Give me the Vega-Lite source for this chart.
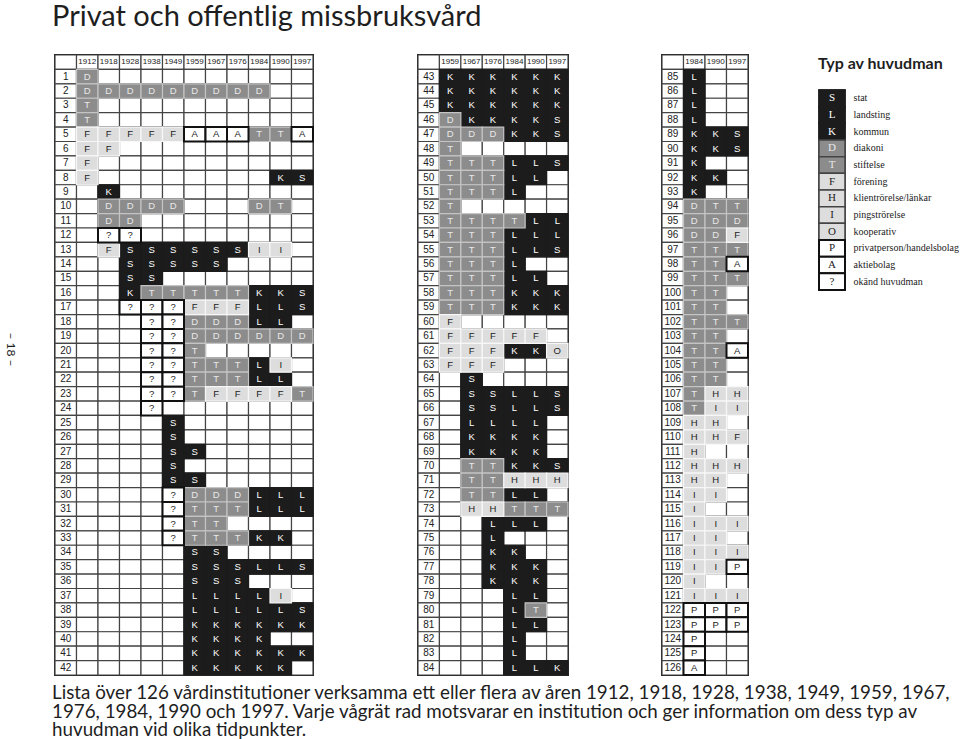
{
  "$schema": "https://vega.github.io/schema/vega-lite/v6.json",
  "background": "white",
  "padding": {"left": 3, "top": 3, "right": 0, "bottom": 0},
  "title": {"text": "Privat och offentlig missbruksvård", "anchor": "start", "font": "Lato", "fontSize": 29, "fontWeight": "normal", "color": "#1e1e1e", "dx": 49, "offset": 21},
  "vconcat": [
    {
      "title": {"text": ["Lista över 126 vårdinstitutioner verksamma ett eller flera av åren 1912, 1918, 1928, 1938, 1949, 1959, 1967,", "1976, 1984, 1990 och 1997. Varje vågrät rad motsvarar en institution och ger information om dess typ av", "huvudman vid olika tidpunkter."], "orient": "bottom", "anchor": "start", "font": "Lato", "fontSize": 18.8, "fontWeight": "normal", "color": "#1e1e1e", "lineHeight": 18.5, "dx": 49, "offset": 7},
      "spacing": 101,
      "hconcat": [
        {
          "width": 258, "height": 620,
          "data": {"values": [
            {"r": "", "1912": "1912", "1918": "1918", "1928": "1928", "1938": "1938", "1949": "1949", "1959": "1959", "1967": "1967", "1976": "1976", "1984": "1984", "1990": "1990", "1997": "1997"},
            {"r": "1", "1912": "D"},
            {"r": "2", "1912": "D", "1918": "D", "1928": "D", "1938": "D", "1949": "D", "1959": "D", "1967": "D", "1976": "D", "1984": "D"},
            {"r": "3", "1912": "T"},
            {"r": "4", "1912": "T"},
            {"r": "5", "1912": "F", "1918": "F", "1928": "F", "1938": "F", "1949": "F", "1959": "A", "1967": "A", "1976": "A", "1984": "T", "1990": "T", "1997": "A"},
            {"r": "6", "1912": "F", "1918": "F"},
            {"r": "7", "1912": "F"},
            {"r": "8", "1912": "F", "1990": "K", "1997": "S"},
            {"r": "9", "1918": "K"},
            {"r": "10", "1918": "D", "1928": "D", "1938": "D", "1949": "D", "1984": "D", "1990": "T"},
            {"r": "11", "1918": "D", "1928": "D"},
            {"r": "12", "1918": "?", "1928": "?"},
            {"r": "13", "1918": "F", "1928": "S", "1938": "S", "1949": "S", "1959": "S", "1967": "S", "1976": "S", "1984": "I", "1990": "I"},
            {"r": "14", "1928": "S", "1938": "S", "1949": "S", "1959": "S", "1967": "S"},
            {"r": "15", "1928": "S", "1938": "S"},
            {"r": "16", "1928": "K", "1938": "T", "1949": "T", "1959": "T", "1967": "T", "1976": "T", "1984": "K", "1990": "K", "1997": "S"},
            {"r": "17", "1928": "?", "1938": "?", "1949": "?", "1959": "F", "1967": "F", "1976": "F", "1984": "L", "1990": "L", "1997": "S"},
            {"r": "18", "1938": "?", "1949": "?", "1959": "D", "1967": "D", "1976": "D", "1984": "L", "1990": "L"},
            {"r": "19", "1938": "?", "1949": "?", "1959": "D", "1967": "D", "1976": "D", "1984": "D", "1990": "D", "1997": "D"},
            {"r": "20", "1938": "?", "1949": "?", "1959": "T"},
            {"r": "21", "1938": "?", "1949": "?", "1959": "T", "1967": "T", "1976": "T", "1984": "L", "1990": "I"},
            {"r": "22", "1938": "?", "1949": "?", "1959": "T", "1967": "T", "1976": "T", "1984": "L", "1990": "L"},
            {"r": "23", "1938": "?", "1949": "?", "1959": "T", "1967": "F", "1976": "F", "1984": "F", "1990": "F", "1997": "T"},
            {"r": "24", "1938": "?"},
            {"r": "25", "1949": "S"},
            {"r": "26", "1949": "S"},
            {"r": "27", "1949": "S", "1959": "S"},
            {"r": "28", "1949": "S"},
            {"r": "29", "1949": "S", "1959": "S"},
            {"r": "30", "1949": "?", "1959": "D", "1967": "D", "1976": "D", "1984": "L", "1990": "L", "1997": "L"},
            {"r": "31", "1949": "?", "1959": "T", "1967": "T", "1976": "T", "1984": "L", "1990": "L", "1997": "L"},
            {"r": "32", "1949": "?", "1959": "T", "1967": "T"},
            {"r": "33", "1949": "?", "1959": "T", "1967": "T", "1976": "T", "1984": "K", "1990": "K"},
            {"r": "34", "1959": "S", "1967": "S"},
            {"r": "35", "1959": "S", "1967": "S", "1976": "S", "1984": "L", "1990": "L", "1997": "S"},
            {"r": "36", "1959": "S", "1967": "S", "1976": "S"},
            {"r": "37", "1959": "L", "1967": "L", "1976": "L", "1984": "L", "1990": "I"},
            {"r": "38", "1959": "L", "1967": "L", "1976": "L", "1984": "L", "1990": "L", "1997": "S"},
            {"r": "39", "1959": "K", "1967": "K", "1976": "K", "1984": "K", "1990": "K", "1997": "K"},
            {"r": "40", "1959": "K", "1967": "K", "1976": "K", "1984": "K"},
            {"r": "41", "1959": "K", "1967": "K", "1976": "K", "1984": "K", "1990": "K", "1997": "K"},
            {"r": "42", "1959": "K", "1967": "K", "1976": "K", "1984": "K", "1990": "K"}
          ]},
          "transform": [{"fold": ["r", "1912", "1918", "1928", "1938", "1949", "1959", "1967", "1976", "1984", "1990", "1997"], "as": ["col", "val"]}],
          "encoding": {
            "x": {"field": "col", "type": "nominal", "axis": null, "scale": {"domain": ["r", "1912", "1918", "1928", "1938", "1949", "1959", "1967", "1976", "1984", "1990", "1997"], "paddingInner": 0, "paddingOuter": 0}},
            "y": {"field": "r", "type": "nominal", "scale": {"domain": ["", "1", "2", "3", "4", "5", "6", "7", "8", "9", "10", "11", "12", "13", "14", "15", "16", "17", "18", "19", "20", "21", "22", "23", "24", "25", "26", "27", "28", "29", "30", "31", "32", "33", "34", "35", "36", "37", "38", "39", "40", "41", "42"], "paddingInner": 0, "paddingOuter": 0},
              "axis": {"title": "– 18 –", "labels": false, "ticks": false, "domain": false, "grid": false, "titleAngle": 90, "titlePadding": 52, "titleFont": "Lato", "titleFontSize": 12, "titleFontWeight": "normal", "titleColor": "#1e1e1e", "titleY": 294}}
          },
          "layer": [
            {"mark": {"type": "rect", "fill": "#ffffff", "stroke": "#444444", "strokeWidth": 1.2}},
            {"transform": [{"filter": {"field": "val", "oneOf": ["S", "L", "K"]}}], "mark": {"type": "rect", "fill": "#1c1c1c", "stroke": "#1c1c1c", "strokeWidth": 1.2}},
            {"transform": [{"filter": {"field": "val", "oneOf": ["D", "T"]}}], "mark": {"type": "rect", "fill": "#8c8c8c", "stroke": "#c4c4c4", "strokeWidth": 1.2}},
            {"transform": [{"filter": {"field": "val", "oneOf": ["F", "H", "I", "O"]}}], "mark": {"type": "rect", "fill": "#dddddd", "stroke": "#f7f7f7", "strokeWidth": 1.2}},
            {"transform": [{"filter": {"field": "val", "oneOf": ["P", "A", "?"]}}], "mark": {"type": "rect", "fill": "#ffffff", "stroke": "#111111", "strokeWidth": 2}},
            {"transform": [{"filter": {"field": "val", "oneOf": ["S", "L", "K"]}}], "mark": {"type": "text", "font": "Liberation Sans", "fontSize": 9.5, "color": "#ffffff"}, "encoding": {"text": {"field": "val"}}},
            {"transform": [{"filter": {"field": "val", "oneOf": ["D", "T"]}}], "mark": {"type": "text", "font": "Liberation Sans", "fontSize": 9.5, "color": "#e8e8e8"}, "encoding": {"text": {"field": "val"}}},
            {"transform": [{"filter": {"field": "val", "oneOf": ["F", "H", "I", "O", "P", "A", "?"]}}], "mark": {"type": "text", "font": "Liberation Sans", "fontSize": 9.5, "color": "#222222"}, "encoding": {"text": {"field": "val"}}},
            {"transform": [{"filter": "datum.col == 'r'"}], "mark": {"type": "text", "font": "Liberation Sans", "fontSize": 10, "color": "#222222"}, "encoding": {"text": {"field": "val"}}},
            {"transform": [{"filter": "datum.r == '' && datum.col != 'r'"}], "mark": {"type": "text", "font": "Liberation Sans", "fontSize": 8, "color": "#222222"}, "encoding": {"text": {"field": "val"}}}
          ]
        },
        {
          "spacing": 90,
          "hconcat": [
            {
              "width": 150, "height": 620,
              "data": {"values": [
                {"r": "", "1959": "1959", "1967": "1967", "1976": "1976", "1984": "1984", "1990": "1990", "1997": "1997"},
                {"r": "43", "1959": "K", "1967": "K", "1976": "K", "1984": "K", "1990": "K", "1997": "K"},
                {"r": "44", "1959": "K", "1967": "K", "1976": "K", "1984": "K", "1990": "K", "1997": "K"},
                {"r": "45", "1959": "K", "1967": "K", "1976": "K", "1984": "K", "1990": "K", "1997": "K"},
                {"r": "46", "1959": "D", "1967": "K", "1976": "K", "1984": "K", "1990": "K", "1997": "S"},
                {"r": "47", "1959": "D", "1967": "D", "1976": "D", "1984": "K", "1990": "K", "1997": "S"},
                {"r": "48", "1959": "T"},
                {"r": "49", "1959": "T", "1967": "T", "1976": "T", "1984": "L", "1990": "L", "1997": "S"},
                {"r": "50", "1959": "T", "1967": "T", "1976": "T", "1984": "L", "1990": "L"},
                {"r": "51", "1959": "T", "1967": "T", "1976": "T", "1984": "L"},
                {"r": "52", "1959": "T"},
                {"r": "53", "1959": "T", "1967": "T", "1976": "T", "1984": "T", "1990": "L", "1997": "L"},
                {"r": "54", "1959": "T", "1967": "T", "1976": "T", "1984": "L", "1990": "L", "1997": "L"},
                {"r": "55", "1959": "T", "1967": "T", "1976": "T", "1984": "L", "1990": "L", "1997": "S"},
                {"r": "56", "1959": "T", "1967": "T", "1976": "T", "1984": "L"},
                {"r": "57", "1959": "T", "1967": "T", "1976": "T", "1984": "L", "1990": "L"},
                {"r": "58", "1959": "T", "1967": "T", "1976": "T", "1984": "K", "1990": "K", "1997": "K"},
                {"r": "59", "1959": "T", "1967": "T", "1976": "T", "1984": "K", "1990": "K", "1997": "K"},
                {"r": "60", "1959": "F"},
                {"r": "61", "1959": "F", "1967": "F", "1976": "F", "1984": "F", "1990": "F"},
                {"r": "62", "1959": "F", "1967": "F", "1976": "F", "1984": "K", "1990": "K", "1997": "O"},
                {"r": "63", "1959": "F", "1967": "F", "1976": "F"},
                {"r": "64", "1967": "S"},
                {"r": "65", "1967": "S", "1976": "S", "1984": "L", "1990": "L", "1997": "S"},
                {"r": "66", "1967": "S", "1976": "S", "1984": "L", "1990": "L", "1997": "S"},
                {"r": "67", "1967": "L", "1976": "L", "1984": "L", "1990": "L"},
                {"r": "68", "1967": "K", "1976": "K", "1984": "K", "1990": "K"},
                {"r": "69", "1967": "K", "1976": "K", "1984": "K", "1990": "K"},
                {"r": "70", "1967": "T", "1976": "T", "1984": "K", "1990": "K", "1997": "S"},
                {"r": "71", "1967": "T", "1976": "T", "1984": "H", "1990": "H", "1997": "H"},
                {"r": "72", "1967": "T", "1976": "T", "1984": "L", "1990": "L"},
                {"r": "73", "1967": "H", "1976": "H", "1984": "T", "1990": "T", "1997": "T"},
                {"r": "74", "1976": "L", "1984": "L", "1990": "L"},
                {"r": "75", "1976": "L"},
                {"r": "76", "1976": "K", "1984": "K"},
                {"r": "77", "1976": "K", "1984": "K", "1990": "K"},
                {"r": "78", "1976": "K", "1984": "K", "1990": "K"},
                {"r": "79", "1984": "L", "1990": "L"},
                {"r": "80", "1984": "L", "1990": "T"},
                {"r": "81", "1984": "L", "1990": "L"},
                {"r": "82", "1984": "L"},
                {"r": "83", "1984": "L"},
                {"r": "84", "1984": "L", "1990": "L", "1997": "K"}
              ]},
              "transform": [{"fold": ["r", "1959", "1967", "1976", "1984", "1990", "1997"], "as": ["col", "val"]}],
              "encoding": {
                "x": {"field": "col", "type": "nominal", "axis": null, "scale": {"domain": ["r", "1959", "1967", "1976", "1984", "1990", "1997"], "paddingInner": 0, "paddingOuter": 0}},
                "y": {"field": "r", "type": "nominal", "axis": null, "scale": {"domain": ["", "43", "44", "45", "46", "47", "48", "49", "50", "51", "52", "53", "54", "55", "56", "57", "58", "59", "60", "61", "62", "63", "64", "65", "66", "67", "68", "69", "70", "71", "72", "73", "74", "75", "76", "77", "78", "79", "80", "81", "82", "83", "84"], "paddingInner": 0, "paddingOuter": 0}}
              },
              "layer": [
                {"mark": {"type": "rect", "fill": "#ffffff", "stroke": "#444444", "strokeWidth": 1.2}},
                {"transform": [{"filter": {"field": "val", "oneOf": ["S", "L", "K"]}}], "mark": {"type": "rect", "fill": "#1c1c1c", "stroke": "#1c1c1c", "strokeWidth": 1.2}},
                {"transform": [{"filter": {"field": "val", "oneOf": ["D", "T"]}}], "mark": {"type": "rect", "fill": "#8c8c8c", "stroke": "#c4c4c4", "strokeWidth": 1.2}},
                {"transform": [{"filter": {"field": "val", "oneOf": ["F", "H", "I", "O"]}}], "mark": {"type": "rect", "fill": "#dddddd", "stroke": "#f7f7f7", "strokeWidth": 1.2}},
                {"transform": [{"filter": {"field": "val", "oneOf": ["P", "A", "?"]}}], "mark": {"type": "rect", "fill": "#ffffff", "stroke": "#111111", "strokeWidth": 2}},
                {"transform": [{"filter": {"field": "val", "oneOf": ["S", "L", "K"]}}], "mark": {"type": "text", "font": "Liberation Sans", "fontSize": 9.5, "color": "#ffffff"}, "encoding": {"text": {"field": "val"}}},
                {"transform": [{"filter": {"field": "val", "oneOf": ["D", "T"]}}], "mark": {"type": "text", "font": "Liberation Sans", "fontSize": 9.5, "color": "#e8e8e8"}, "encoding": {"text": {"field": "val"}}},
                {"transform": [{"filter": {"field": "val", "oneOf": ["F", "H", "I", "O", "P", "A", "?"]}}], "mark": {"type": "text", "font": "Liberation Sans", "fontSize": 9.5, "color": "#222222"}, "encoding": {"text": {"field": "val"}}},
                {"transform": [{"filter": "datum.col == 'r'"}], "mark": {"type": "text", "font": "Liberation Sans", "fontSize": 10, "color": "#222222"}, "encoding": {"text": {"field": "val"}}},
                {"transform": [{"filter": "datum.r == '' && datum.col != 'r'"}], "mark": {"type": "text", "font": "Liberation Sans", "fontSize": 8, "color": "#222222"}, "encoding": {"text": {"field": "val"}}}
              ]
            },
            {
              "spacing": 68,
              "hconcat": [
                {
                  "width": 86, "height": 620,
                  "data": {"values": [
                    {"r": "", "1984": "1984", "1990": "1990", "1997": "1997"},
                    {"r": "85", "1984": "L"},
                    {"r": "86", "1984": "L"},
                    {"r": "87", "1984": "L"},
                    {"r": "88", "1984": "L"},
                    {"r": "89", "1984": "K", "1990": "K", "1997": "S"},
                    {"r": "90", "1984": "K", "1990": "K", "1997": "S"},
                    {"r": "91", "1984": "K"},
                    {"r": "92", "1984": "K", "1990": "K"},
                    {"r": "93", "1984": "K"},
                    {"r": "94", "1984": "D", "1990": "T", "1997": "T"},
                    {"r": "95", "1984": "D", "1990": "D", "1997": "D"},
                    {"r": "96", "1984": "D", "1990": "D", "1997": "F"},
                    {"r": "97", "1984": "T", "1990": "T", "1997": "T"},
                    {"r": "98", "1984": "T", "1990": "T", "1997": "A"},
                    {"r": "99", "1984": "T", "1990": "T", "1997": "T"},
                    {"r": "100", "1984": "T", "1990": "T"},
                    {"r": "101", "1984": "T", "1990": "T"},
                    {"r": "102", "1984": "T", "1990": "T", "1997": "T"},
                    {"r": "103", "1984": "T", "1990": "T"},
                    {"r": "104", "1984": "T", "1990": "T", "1997": "A"},
                    {"r": "105", "1984": "T", "1990": "T"},
                    {"r": "106", "1984": "T", "1990": "T"},
                    {"r": "107", "1984": "T", "1990": "H", "1997": "H"},
                    {"r": "108", "1984": "T", "1990": "I", "1997": "I"},
                    {"r": "109", "1984": "H", "1990": "H"},
                    {"r": "110", "1984": "H", "1990": "H", "1997": "F"},
                    {"r": "111", "1984": "H"},
                    {"r": "112", "1984": "H", "1990": "H", "1997": "H"},
                    {"r": "113", "1984": "H", "1990": "H"},
                    {"r": "114", "1984": "I", "1990": "I"},
                    {"r": "115", "1984": "I"},
                    {"r": "116", "1984": "I", "1990": "I", "1997": "I"},
                    {"r": "117", "1984": "I", "1990": "I"},
                    {"r": "118", "1984": "I", "1990": "I", "1997": "I"},
                    {"r": "119", "1984": "I", "1990": "I", "1997": "P"},
                    {"r": "120", "1984": "I"},
                    {"r": "121", "1984": "I", "1990": "I", "1997": "I"},
                    {"r": "122", "1984": "P", "1990": "P", "1997": "P"},
                    {"r": "123", "1984": "P", "1990": "P", "1997": "P"},
                    {"r": "124", "1984": "P"},
                    {"r": "125", "1984": "P"},
                    {"r": "126", "1984": "A"}
                  ]},
                  "transform": [{"fold": ["r", "1984", "1990", "1997"], "as": ["col", "val"]}],
                  "encoding": {
                    "x": {"field": "col", "type": "nominal", "axis": null, "scale": {"domain": ["r", "1984", "1990", "1997"], "paddingInner": 0, "paddingOuter": 0}},
                    "y": {"field": "r", "type": "nominal", "axis": null, "scale": {"domain": ["", "85", "86", "87", "88", "89", "90", "91", "92", "93", "94", "95", "96", "97", "98", "99", "100", "101", "102", "103", "104", "105", "106", "107", "108", "109", "110", "111", "112", "113", "114", "115", "116", "117", "118", "119", "120", "121", "122", "123", "124", "125", "126"], "paddingInner": 0, "paddingOuter": 0}}
                  },
                  "layer": [
                    {"mark": {"type": "rect", "fill": "#ffffff", "stroke": "#444444", "strokeWidth": 1.2}},
                    {"transform": [{"filter": {"field": "val", "oneOf": ["S", "L", "K"]}}], "mark": {"type": "rect", "fill": "#1c1c1c", "stroke": "#1c1c1c", "strokeWidth": 1.2}},
                    {"transform": [{"filter": {"field": "val", "oneOf": ["D", "T"]}}], "mark": {"type": "rect", "fill": "#8c8c8c", "stroke": "#c4c4c4", "strokeWidth": 1.2}},
                    {"transform": [{"filter": {"field": "val", "oneOf": ["F", "H", "I", "O"]}}], "mark": {"type": "rect", "fill": "#dddddd", "stroke": "#f7f7f7", "strokeWidth": 1.2}},
                    {"transform": [{"filter": {"field": "val", "oneOf": ["P", "A", "?"]}}], "mark": {"type": "rect", "fill": "#ffffff", "stroke": "#111111", "strokeWidth": 2}},
                    {"transform": [{"filter": {"field": "val", "oneOf": ["S", "L", "K"]}}], "mark": {"type": "text", "font": "Liberation Sans", "fontSize": 9.5, "color": "#ffffff"}, "encoding": {"text": {"field": "val"}}},
                    {"transform": [{"filter": {"field": "val", "oneOf": ["D", "T"]}}], "mark": {"type": "text", "font": "Liberation Sans", "fontSize": 9.5, "color": "#e8e8e8"}, "encoding": {"text": {"field": "val"}}},
                    {"transform": [{"filter": {"field": "val", "oneOf": ["F", "H", "I", "O", "P", "A", "?"]}}], "mark": {"type": "text", "font": "Liberation Sans", "fontSize": 9.5, "color": "#222222"}, "encoding": {"text": {"field": "val"}}},
                    {"transform": [{"filter": "datum.col == 'r'"}], "mark": {"type": "text", "font": "Liberation Sans", "fontSize": 10, "color": "#222222"}, "encoding": {"text": {"field": "val"}}},
                    {"transform": [{"filter": "datum.r == '' && datum.col != 'r'"}], "mark": {"type": "text", "font": "Liberation Sans", "fontSize": 8, "color": "#222222"}, "encoding": {"text": {"field": "val"}}}
                  ]
                },
                {
                  "title": {"text": "Typ av huvudman", "anchor": "start", "font": "Lato", "fontSize": 16, "fontWeight": "bold", "color": "#1e1e1e", "offset": -17},
                  "width": 26, "height": 235,
                  "view": {"stroke": null},
                  "data": {"values": [
                    {"code": "S", "name": "stat"},
                    {"code": "L", "name": "landsting"},
                    {"code": "K", "name": "kommun"},
                    {"code": "D", "name": "diakoni"},
                    {"code": "T", "name": "stiftelse"},
                    {"code": "F", "name": "förening"},
                    {"code": "H", "name": "klientrörelse/länkar"},
                    {"code": "I", "name": "pingströrelse"},
                    {"code": "O", "name": "kooperativ"},
                    {"code": "P", "name": "privatperson/handelsbolag"},
                    {"code": "A", "name": "aktiebolag"},
                    {"code": "?", "name": "okänd huvudman"}
                  ]},
                  "encoding": {
                    "x": {"datum": "box", "type": "nominal", "axis": null, "scale": {"paddingInner": 0, "paddingOuter": 0}},
                    "y": {"field": "name", "type": "nominal", "sort": null, "scale": {"paddingInner": 0, "paddingOuter": 0, "range": [35, 235]},
                      "axis": {"orient": "right", "title": null, "ticks": false, "domain": false, "grid": false, "labelFont": "Liberation Serif", "labelFontSize": 10, "labelColor": "#222222", "labelPadding": 8, "labelLimit": 200}}
                  },
                  "layer": [
                    {"mark": {"type": "rect", "fill": "#ffffff", "stroke": "#222222", "strokeWidth": 1.5}},
                    {"transform": [{"filter": {"field": "code", "oneOf": ["S", "L", "K"]}}], "mark": {"type": "rect", "fill": "#1c1c1c", "stroke": "#1c1c1c", "strokeWidth": 1.5}},
                    {"transform": [{"filter": {"field": "code", "oneOf": ["D", "T"]}}], "mark": {"type": "rect", "fill": "#8c8c8c", "stroke": "#444444", "strokeWidth": 1.5}},
                    {"transform": [{"filter": {"field": "code", "oneOf": ["F", "H", "I", "O"]}}], "mark": {"type": "rect", "fill": "#dddddd", "stroke": "#444444", "strokeWidth": 1.5}},
                    {"transform": [{"filter": {"field": "code", "oneOf": ["P", "A", "?"]}}], "mark": {"type": "rect", "fill": "#ffffff", "stroke": "#111111", "strokeWidth": 2}},
                    {"transform": [{"filter": {"field": "code", "oneOf": ["S", "L", "K"]}}], "mark": {"type": "text", "font": "Liberation Serif", "fontSize": 11, "color": "#ffffff"}, "encoding": {"text": {"field": "code"}}},
                    {"transform": [{"filter": {"field": "code", "oneOf": ["D", "T"]}}], "mark": {"type": "text", "font": "Liberation Serif", "fontSize": 11, "color": "#e8e8e8"}, "encoding": {"text": {"field": "code"}}},
                    {"transform": [{"filter": {"field": "code", "oneOf": ["F", "H", "I", "O", "P", "A", "?"]}}], "mark": {"type": "text", "font": "Liberation Serif", "fontSize": 11, "color": "#222222"}, "encoding": {"text": {"field": "code"}}}
                  ]
                }
              ]
            }
          ]
        }
      ]
    }
  ],
  "config": {
    "view": {"stroke": "#1a1a1a", "strokeWidth": 2}
  }
}
